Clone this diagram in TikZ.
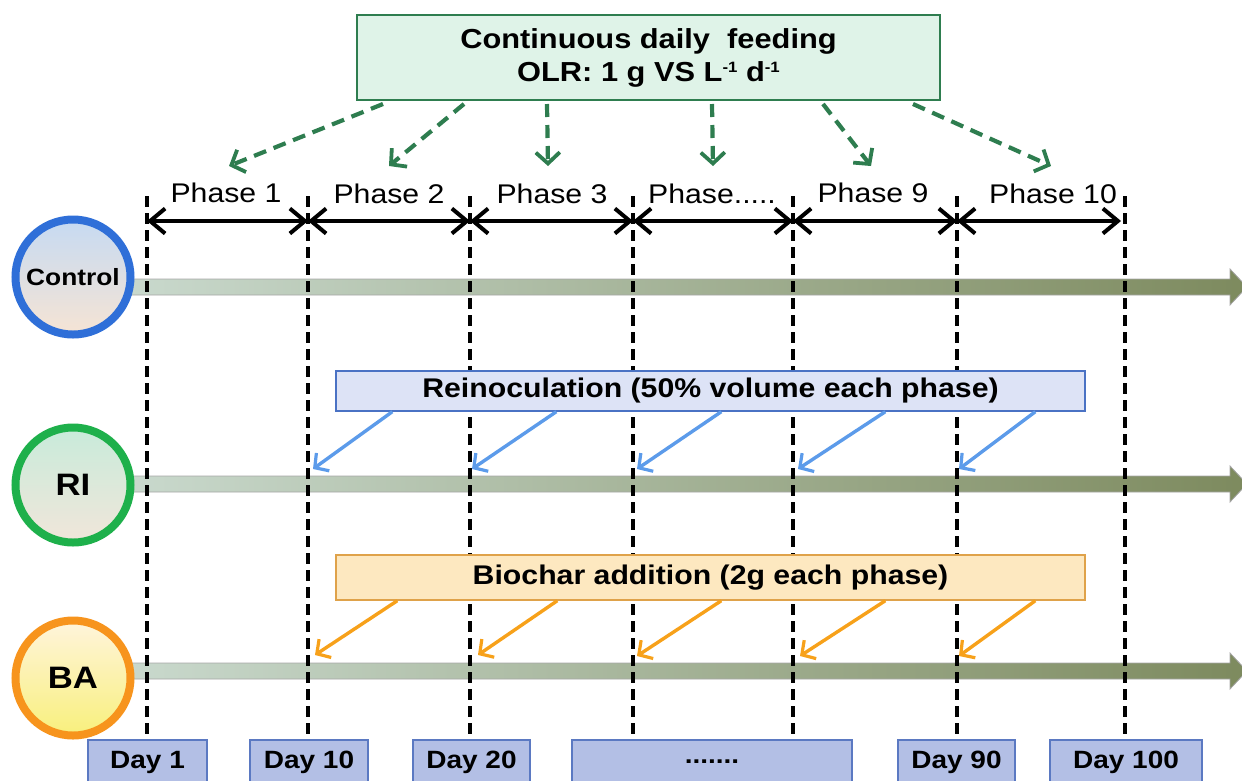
\documentclass[tikz,border=0pt]{standalone}
\usepackage{fontspec}
\setmainfont[FakeStretch=1.12]{Liberation Sans}
\usetikzlibrary{arrows.meta,calc}

\definecolor{feedgreen}{HTML}{2E7D4F}
\definecolor{feedfill}{HTML}{DFF3E8}
\definecolor{barlight}{HTML}{C9D9CD}
\definecolor{bardark}{HTML}{7D8A5E}
\definecolor{ctrlblue}{HTML}{2F6FD8}
\definecolor{ctrltop}{HTML}{C6DAF2}
\definecolor{ctrlbot}{HTML}{F6E4D4}
\definecolor{rigreen}{HTML}{1EB04B}
\definecolor{ritop}{HTML}{C8EBDA}
\definecolor{ribot}{HTML}{F1E6DA}
\definecolor{baorange}{HTML}{F7941D}
\definecolor{batop}{HTML}{FFF4DC}
\definecolor{babot}{HTML}{F8F07C}
\definecolor{reinofill}{HTML}{DDE3F6}
\definecolor{reinoline}{HTML}{4A72C4}
\definecolor{reinoarrow}{HTML}{5C9BEA}
\definecolor{charfill}{HTML}{FDE8C0}
\definecolor{charline}{HTML}{DFA24A}
\definecolor{chararrow}{HTML}{F7A11A}
\definecolor{dayfill}{HTML}{B3BFE5}
\definecolor{dayline}{HTML}{5B79C2}

% horizontal time bar with a block arrow head, centred on the given y
\newcommand{\flowbar}[1]{%
  \shadedraw[draw=gray!70, line width=0.8pt, left color=barlight, right color=bardark]
    (128,#1-8) -- (1230,#1-8) -- (1230,#1-18) -- (1247,#1) -- (1230,#1+18)
    -- (1230,#1+8) -- (128,#1+8) -- cycle;}
% small raised exponent
\newcommand{\expo}[1]{\raisebox{0.62ex}{\fontsize{15}{15}\selectfont #1}}

\begin{document}
\begin{tikzpicture}[x=1pt,y=-1pt,
  feedbox/.style={draw=feedgreen, line width=2pt, fill=feedfill, align=center,
    inner sep=0pt, font=\bfseries\fontsize{27.5}{33}\selectfont},
  feedarrow/.style={draw=feedgreen, line width=4.2pt, dash pattern=on 13pt off 8pt,
    -{Straight Barb[length=11pt,width=24pt,line width=3.8pt]}},
  phasearrow/.style={line width=4.2pt,
    {Straight Barb[length=15pt,width=25pt,line width=4pt]}-{Straight Barb[length=15pt,width=25pt,line width=4pt]}},
  phaselabel/.style={font=\fontsize{27}{30}\selectfont, anchor=center},
  divider/.style={line width=4pt, dash pattern=on 11pt off 6pt},
  groupcircle/.style={circle, line width=8pt, minimum size=115pt, inner sep=0pt},
  actionbox/.style={line width=1.4pt, minimum width=749pt, inner sep=0pt,
    font=\bfseries\fontsize{27}{30}\selectfont},
  reinoarr/.style={draw=reinoarrow, line width=3.4pt,
    -{Straight Barb[length=10pt,width=22pt,line width=3.2pt]}},
  chararr/.style={draw=chararrow, line width=3.4pt,
    -{Straight Barb[length=10pt,width=22pt,line width=3.2pt]}},
  daybox/.style={draw=dayline, line width=1.4pt, fill=dayfill, minimum height=44pt,
    inner sep=0pt, font=\bfseries\fontsize{25}{28}\selectfont},
]
\useasboundingbox (0,0) rectangle (1242,780);

% ---- time bars ----
\flowbar{287}
\flowbar{484}
\flowbar{671}

% ---- day boxes ----
\node[daybox, minimum width=119pt] (d1)   at (147.5,762) {Day 1};
\node[daybox, minimum width=118pt] (d10)  at (309,762)   {Day 10};
\node[daybox, minimum width=117pt] (d20)  at (471.5,762) {Day 20};
\node[daybox, minimum width=280pt] (dmid) at (712,762)   {.......};
\node[daybox, minimum width=117pt] (d90)  at (956.5,762) {Day 90};
\node[daybox, minimum width=152pt] (d100) at (1126,762)  {Day 100};

% ---- phase dividers ----
\coordinate (t1) at (147,196);
\coordinate (t2) at (308,196);
\coordinate (t3) at (470,196);
\coordinate (t4) at (633,196);
\coordinate (t5) at (793,196);
\coordinate (t6) at (957,196);
\coordinate (t7) at (1125,196);
\draw[divider] (t1) -- (t1 |- d1.north);
\draw[divider] (t2) -- (t2 |- d10.north);
\draw[divider] (t3) -- (t3 |- d20.north);
\draw[divider] (t4) -- (t4 |- dmid.north);
\draw[divider] (t5) -- (t5 |- dmid.north);
\draw[divider] (t6) -- (t6 |- d90.north);
\draw[divider] (t7) -- (t7 |- d100.north);

% ---- phase spans ----
\coordinate (p1) at (147,221);
\coordinate (p2) at (308,221);
\coordinate (p3) at (470,221);
\coordinate (p4) at (633,221);
\coordinate (p5) at (793,221);
\coordinate (p6) at (957,221);
\coordinate (p7) at (1121,221);
\draw[phasearrow] (p1) -- (p2);
\draw[phasearrow] (p2) -- (p3);
\draw[phasearrow] (p3) -- (p4);
\draw[phasearrow] (p4) -- (p5);
\draw[phasearrow] (p5) -- (p6);
\draw[phasearrow] (p6) -- (p7);
\node[phaselabel] (ph1)  at (226,193)  {Phase 1};
\node[phaselabel] (ph2)  at (389,194)  {Phase 2};
\node[phaselabel] (ph3)  at (552,194)  {Phase 3};
\node[phaselabel] (ph4)  at (712,194)  {Phase.....};
\node[phaselabel] (ph9)  at (873,193)  {Phase 9};
\node[phaselabel] (ph10) at (1053,194) {Phase 10};

% ---- feeding regime ----
\node[feedbox, minimum width=583pt, minimum height=85pt] (feed) at (648.5,57.5)
  {Continuous daily\ \ feeding\\OLR: 1 g VS L\expo{-1} d\expo{-1}};
\coordinate (f1) at (229,166);
\coordinate (f2) at (389,166);
\coordinate (f3) at (548,166);
\coordinate (f4) at (713,166);
\coordinate (f5) at (871,166);
\coordinate (f6) at (1051,166);
\draw[feedarrow] ([xshift=27pt,yshift=-3pt]feed.south west) -- (f1);
\draw[feedarrow] ([xshift=108pt,yshift=-3pt]feed.south west) -- (f2);
\draw[feedarrow] ([xshift=191pt,yshift=-3pt]feed.south west) -- (f3);
\draw[feedarrow] ([xshift=356pt,yshift=-3pt]feed.south west) -- (f4);
\draw[feedarrow] ([xshift=467pt,yshift=-3pt]feed.south west) -- (f5);
\draw[feedarrow] ([xshift=557pt,yshift=-3pt]feed.south west) -- (f6);

% ---- reinoculation ----
\node[actionbox, draw=reinoline, fill=reinofill, minimum height=40pt] (reino) at (710.5,391)
  {Reinoculation (50\% volume each phase)};
\coordinate (r1) at (313,469);
\coordinate (r2) at (472,469);
\coordinate (r3) at (637,469);
\coordinate (r4) at (798,469);
\coordinate (r5) at (959,469);
\draw[reinoarr] ([xshift=57pt]reino.south west) -- (r1);
\draw[reinoarr] ([xshift=221pt]reino.south west) -- (r2);
\draw[reinoarr] ([xshift=386pt]reino.south west) -- (r3);
\draw[reinoarr] ([xshift=550pt]reino.south west) -- (r4);
\draw[reinoarr] ([xshift=700pt]reino.south west) -- (r5);

% ---- biochar ----
\node[actionbox, draw=charline, fill=charfill, minimum height=45pt] (char) at (710.5,577.5)
  {Biochar addition (2g each phase)};
\coordinate (c1) at (315,655);
\coordinate (c2) at (478,655);
\coordinate (c3) at (637,656);
\coordinate (c4) at (800,656);
\coordinate (c5) at (959,656);
\draw[chararr] ([xshift=62pt]char.south west) -- (c1);
\draw[chararr] ([xshift=222pt]char.south west) -- (c2);
\draw[chararr] ([xshift=386pt]char.south west) -- (c3);
\draw[chararr] ([xshift=550pt]char.south west) -- (c4);
\draw[chararr] ([xshift=700pt]char.south west) -- (c5);

% ---- groups ----
\node[groupcircle, draw=ctrlblue, top color=ctrltop, bottom color=ctrlbot,
  font=\bfseries\fontsize{23.5}{28}\selectfont] (control) at (73,277) {Control};
\node[groupcircle, draw=rigreen, top color=ritop, bottom color=ribot,
  font=\bfseries\fontsize{31}{34}\selectfont] (ri) at (73,485) {RI};
\node[groupcircle, draw=baorange, top color=batop, bottom color=babot,
  font=\bfseries\fontsize{31}{34}\selectfont] (ba) at (73,678) {BA};
\end{tikzpicture}
\end{document}
